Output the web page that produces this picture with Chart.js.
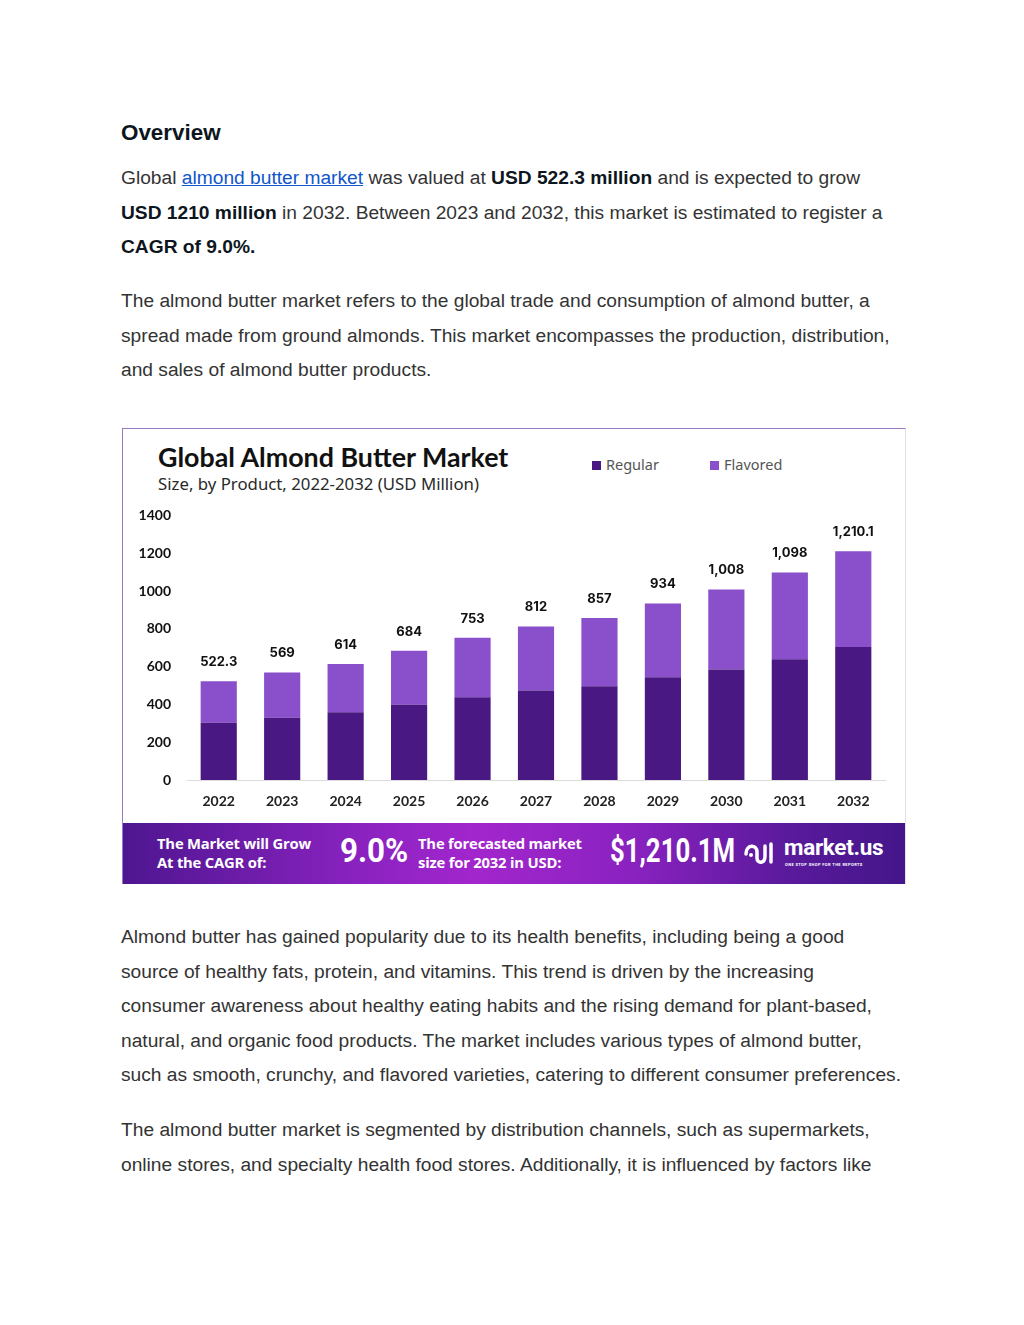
<!DOCTYPE html>
<html>
<head>
<meta charset="utf-8">
<script src="https://cdn.jsdelivr.net/npm/chart.js@4.4.1/dist/chart.umd.min.js"></script>
<style>
  body { margin: 0; background: #fff; font-family: "Liberation Sans", Arial, sans-serif; }
  .page { position: relative; width: 1024px; height: 1325px; }
  .txt { position: absolute; left: 121px; font-size: 19.2px; line-height: 34.5px; color: #333; white-space: nowrap; }
  .txt b { color: #0d1620; }
  .txt a { color: #1155cc; text-decoration: underline; }
  h2 { position: absolute; left: 121px; top: 120px; margin: 0; font-size: 22.4px; color: #0d1620; font-weight: bold; }
  .box { position: absolute; left: 122px; top: 428px; width: 782px; height: 455px; border: 1px solid #9a79c2; border-right-color: #e6dff0; border-bottom: none; background: #fff; overflow: hidden; }
  .title { position: absolute; left: 35px; top: 12px; font-family: Lato, sans-serif; font-weight: 700; font-size: 26.8px; color: #111; }
  .sub { position: absolute; left: 35px; top: 43px; font-family: "Noto Sans", sans-serif; font-size: 16.8px; color: #2a2a2a; }
  .legend { position: absolute; top: 25px; font-family: "Noto Sans", sans-serif; font-size: 14.5px; color: #555; }
  .legend span { display: inline-block; width: 9px; height: 9px; margin-right: 5px; }
  .plot { position: absolute; left: 0; top: 70px; width: 782px; height: 325px; }
  .banner { position: absolute; left: 0; bottom: 0; width: 782px; height: 61px;
    background: linear-gradient(90deg, #4e1690 0%, #8a22c0 30%, #a226cc 45%, #8a22c0 65%, #5a1a9c 85%, #44168a 100%); color: #fff; }
  .banner div { position: absolute; font-family: Roboto, sans-serif; font-weight: 700; }
  .banner div.small { font-family: "Open Sans", sans-serif; font-size: 14.8px; line-height: 19px; letter-spacing: -0.2px; }
  .big { font-size: 33px; top: 8px; transform-origin: 0 50%; }
</style>
</head>
<body>
<div class="page">
  <h2>Overview</h2>
  <div class="txt" style="top:161px">
    Global <a>almond butter market</a> was valued at <b>USD 522.3 million</b> and is expected to grow<br>
    <b>USD 1210 million</b> in 2032. Between 2023 and 2032, this market is estimated to register a<br>
    <b>CAGR of 9.0%.</b>
  </div>
  <div class="txt" style="top:284px">
    The almond butter market refers to the global trade and consumption of almond butter, a<br>
    spread made from ground almonds. This market encompasses the production, distribution,<br>
    and sales of almond butter products.
  </div>

  <div class="box">
    <div class="title">Global Almond Butter Market</div>
    <div class="sub">Size, by Product, 2022-2032 (USD Million)</div>
    <div class="legend" id="leg0" style="left:469px"></div>
    <div class="legend" id="leg1" style="left:587px"></div>
    <div class="plot"><canvas id="barchart"></canvas></div>
    <div class="banner">
      <div class="small" style="left:34px; top:11px">The Market will Grow<br>At the CAGR of:</div>
      <div class="big" style="left:217px; transform:scaleX(0.95)">9.0%</div>
      <div class="small" style="left:295px; top:11px">The forecasted market<br>size for 2032 in USD:</div>
      <div class="big" style="left:487px; transform:scaleX(0.78)">$1,210.1M</div>
      <svg style="position:absolute; left:620px; top:15px" width="36" height="30" viewBox="0 0 36 30">
        <path d="M3 16 C3 6, 14 6, 14 14 L14 20 C14 26, 22 26, 22 18 L22 8" stroke="#fff" stroke-width="3.5" fill="none" stroke-linecap="round"/>
        <circle cx="8" cy="17" r="2" fill="#fff"/>
        <path d="M28 6 L28 24" stroke="#fff" stroke-width="3.5" stroke-linecap="round"/>
      </svg>
      <div style="left:661px; top:11px; font-size:22.5px; letter-spacing:-0.3px">market.us</div>
      <div style="left:662px; top:39px; font-size:4px; letter-spacing:0.4px; font-weight:700">ONE STOP SHOP FOR THE REPORTS</div>
    </div>
  </div>

  <div class="txt" style="top:920px">
    Almond butter has gained popularity due to its health benefits, including being a good<br>
    source of healthy fats, protein, and vitamins. This trend is driven by the increasing<br>
    consumer awareness about healthy eating habits and the rising demand for plant-based,<br>
    natural, and organic food products. The market includes various types of almond butter,<br>
    such as smooth, crunchy, and flavored varieties, catering to different consumer preferences.
  </div>
  <div class="txt" style="top:1113px">
    The almond butter market is segmented by distribution channels, such as supermarkets,<br>
    online stores, and specialty health food stores. Additionally, it is influenced by factors like
  </div>
</div>

<script>
const years = ['2022', '2023', '2024', '2025', '2026', '2027', '2028', '2029', '2030', '2031', '2032'];
const regular = [303, 330, 358, 398, 438, 474, 496, 544, 584, 639, 704];
const flavored = [219.3, 239, 256, 286, 315, 338, 361, 390, 424, 459, 506.1];
const totalLabels = ['522.3', '569', '614', '684', '753', '812', '857', '934', '1,008', '1,098', '1,210.1'];
const yTicks = [0, 200, 400, 600, 800, 1000, 1200, 1400];
const seriesNames = ['Regular', 'Flavored'];
const seriesColors = ['#4a1882', '#8a4fca'];

// legend in html
seriesNames.forEach((n, i) => {
	document.getElementById('leg' + i).innerHTML = '<span style="background:' + seriesColors[i] + '"></span>' + n;
});

// totals on top of the stacks
const topLabels = {
	id: 'topLabels',
	afterDatasetsDraw(chart) {
		const ctx = chart.ctx;
		const meta = chart.getDatasetMeta(1);
		ctx.save();
		ctx.font = 'bold 13px Inter';
		ctx.fillStyle = '#111';
		ctx.textAlign = 'center';
		ctx.textBaseline = 'middle';
		meta.data.forEach((bar, i) => {
			ctx.fillText(totalLabels[i], bar.x, bar.y - 19);
		});
		ctx.restore();
	}
};

new Chart(document.getElementById("barchart"), {
	type: 'bar',
	data: {
		labels: years,
		datasets: [{
			data: regular,
			label: seriesNames[0],
			backgroundColor: seriesColors[0],
		}, {
			data: flavored,
			label: seriesNames[1],
			backgroundColor: seriesColors[1],
		}]
	},
	options: {
		responsive: true,
		maintainAspectRatio: false,
		animation: false,
		layout: { padding: { top: 5, right: 20, left: 0, bottom: 0 } },
		plugins: {
			legend: { display: false },
			tooltip: { enabled: false },
		},
		datasets: { bar: { barPercentage: 0.57, categoryPercentage: 1 } },
		scales: {
			x: {
				stacked: true,
				grid: { display: false },
				border: { display: true, color: '#dcdcdc', width: 1 },
				ticks: { color: '#222', font: { family: 'Lato', weight: 'bold', size: 14 }, padding: 5 },
				afterFit: s => { s.height = 44; }
			},
			y: {
				stacked: true,
				min: 0,
				max: 1400,
				afterBuildTicks: s => { s.ticks = yTicks.map(v => ({ value: v })); },
				grid: { display: false },
				border: { display: false },
				ticks: { color: '#111', font: { family: 'Lato', weight: 'bold', size: 14 }, padding: 8, callback: v => String(v) },
				afterFit: s => { s.width = 64; }
			}
		}
	},
	plugins: [topLabels]
});
</script>
</body>
</html>
